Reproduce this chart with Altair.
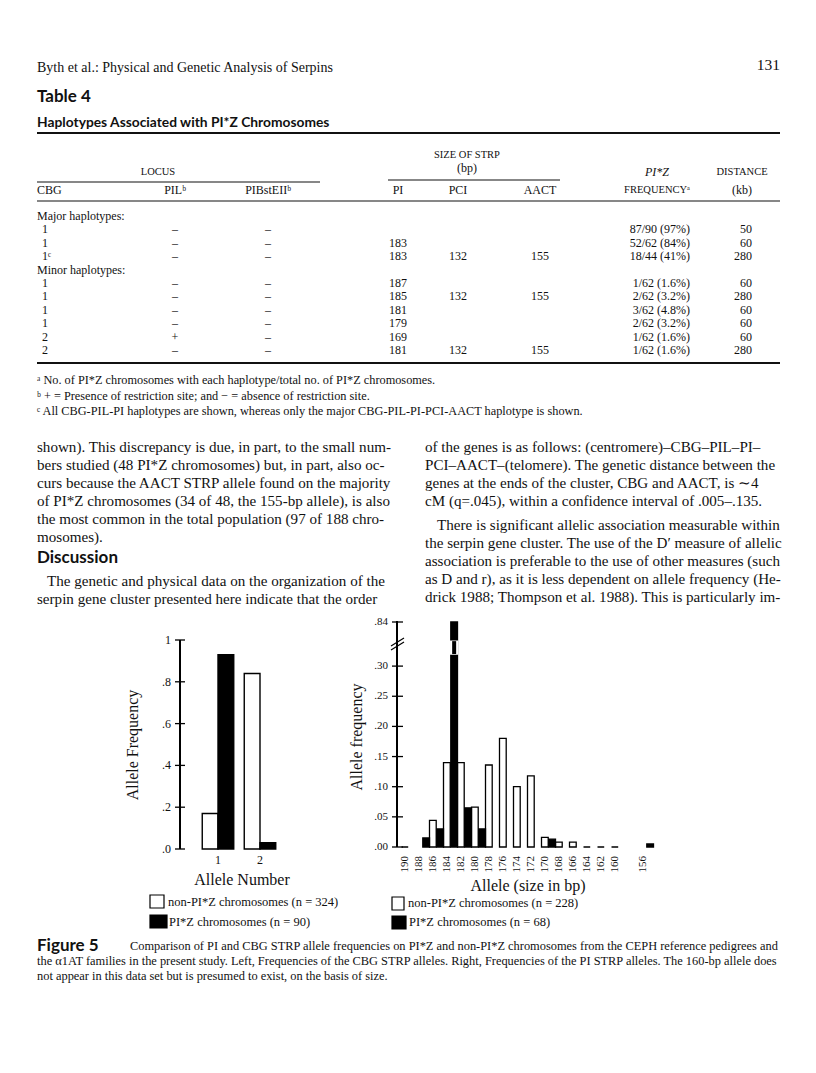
import altair as alt
import pandas as pd

# ------------------------------------------------------------------
# Figure data
# ------------------------------------------------------------------
cbg_alleles = ["1", "2"]
cbg_non_piz = [0.17, 0.84]
cbg_piz = [0.93, 0.03]

pi_slots = ["190", "188", "186", "184", "182", "180", "178", "176", "174",
            "172", "170", "168", "166", "164", "162", "160", "158", "156"]
pi_slot_labels = ["190", "188", "186", "184", "182", "180", "178", "176", "174",
                  "172", "170", "168", "166", "164", "162", "160", "", "156"]
pi_non_alleles = ["190", "186", "184", "182", "180", "178", "176", "174", "172",
                  "170", "168", "166", "164", "162", "160"]
pi_non_freq = [0.0, 0.044, 0.14, 0.14, 0.066, 0.136, 0.18, 0.10, 0.118,
               0.016, 0.008, 0.008, 0.0, 0.0, 0.0]
pi_z_alleles = ["188", "186", "184", "182", "180", "170", "156"]
pi_z_freq = [0.015, 0.03, 0.84, 0.065, 0.03, 0.013, 0.005]

left_ticks = [0.0, 0.2, 0.4, 0.6, 0.8, 1.0]
left_tick_labels = [".0", ".2", ".4", ".6", ".8", "1"]
right_ticks = [0.0, 0.05, 0.10, 0.15, 0.20, 0.25, 0.30, 0.84]
right_tick_labels = [".00", ".05", ".10", ".15", ".20", ".25", ".30", ".84"]

# ------------------------------------------------------------------
# Page text
# ------------------------------------------------------------------
header_text = "Byth et al.: Physical and Genetic Analysis of Serpins"
page_number = "131"
table_title = "Table 4"
table_caption = "Haplotypes Associated with PI*Z Chromosomes"
table_rows = [
    ["1", "–", "–", "", "", "", "87/90 (97%)", "50"],
    ["1", "–", "–", "183", "", "", "52/62 (84%)", "60"],
    ["1ᶜ", "–", "–", "183", "132", "155", "18/44 (41%)", "280"],
    ["1", "–", "–", "187", "", "", "1/62 (1.6%)", "60"],
    ["1", "–", "–", "185", "132", "155", "2/62 (3.2%)", "280"],
    ["1", "–", "–", "181", "", "", "3/62 (4.8%)", "60"],
    ["1", "–", "–", "179", "", "", "2/62 (3.2%)", "60"],
    ["2", "+", "–", "169", "", "", "1/62 (1.6%)", "60"],
    ["2", "–", "–", "181", "132", "155", "1/62 (1.6%)", "280"],
]
footnotes = [
    "ᵃ No. of PI*Z chromosomes with each haplotype/total no. of PI*Z chromosomes.",
    "ᵇ + = Presence of restriction site; and − = absence of restriction site.",
    "ᶜ All CBG-PIL-PI haplotypes are shown, whereas only the major CBG-PIL-PI-PCI-AACT haplotype is shown.",
]
body_left = [
    "shown). This discrepancy is due, in part, to the small num-",
    "bers studied (48 PI*Z chromosomes) but, in part, also oc-",
    "curs because the AACT STRP allele found on the majority",
    "of PI*Z chromosomes (34 of 48, the 155-bp allele), is also",
    "the most common in the total population (97 of 188 chro-",
    "mosomes).",
]
body_left2 = [
    "The genetic and physical data on the organization of the",
    "serpin gene cluster presented here indicate that the order",
]
body_right = [
    "of the genes is as follows: (centromere)–CBG–PIL–PI–",
    "PCI–AACT–(telomere). The genetic distance between the",
    "genes at the ends of the cluster, CBG and AACT, is ∼4",
    "cM (q=.045), within a confidence interval of .005–.135.",
]
body_right2 = [
    "There is significant allelic association measurable within",
    "the serpin gene cluster. The use of the D′ measure of allelic",
    "association is preferable to the use of other measures (such",
    "as D and r), as it is less dependent on allele frequency (He-",
    "drick 1988; Thompson et al. 1988). This is particularly im-",
]
caption_lines = [
    "Comparison of PI and CBG STRP allele frequencies on PI*Z and non-PI*Z chromosomes from the CEPH reference pedigrees and",
    "the α1AT families in the present study. Left, Frequencies of the CBG STRP alleles. Right, Frequencies of the PI STRP alleles. The 160-bp allele does",
    "not appear in this data set but is presumed to exist, on the basis of size.",
]

# ------------------------------------------------------------------
# Layout (page pixel coordinates)
# ------------------------------------------------------------------
W, H, M = 800, 1057, 8
SERIF = "Liberation Serif"
SANS = "Lato"

PX = alt.Scale(domain=[M, M + W], range=[0, W], nice=False, zero=False)
PY = alt.Scale(domain=[M, M + H], range=[0, H], nice=False, zero=False)

texts = []  # (text, x, y, style)


def add(t, x, y, style):
    texts.append((t, x, y, style))


add(header_text, 37, 68, "head")
add(page_number, 780, 65, "pagenum")
add(table_title, 37, 97, "h1")
add(table_caption, 37, 123, "h2")

# table header
add("SIZE OF STRP", 467, 155, "sc")
add("(bp)", 467, 168, "tabc")
add("LOCUS", 158, 172, "sc")
add("PI*Z", 657, 172, "tabci")
add("DISTANCE", 742, 172, "sc")
add("CBG", 37, 190, "tab")
add("PILᵇ", 175, 190, "tabc")
add("PIBstEIIᵇ", 268, 190, "tabc")
add("PI", 398, 190, "tabc")
add("PCI", 458, 190, "tabc")
add("AACT", 540, 190, "tabc")
add("FREQUENCYᵃ", 657, 190, "sc")
add("(kb)", 742, 190, "tabc")

add("Major haplotypes:", 37, 216, "tab")
add("Minor haplotypes:", 37, 269.6, "tab")
row_y = [229.4, 242.8, 256.2, 283.0, 296.4, 309.8, 323.2, 336.6, 350.0]
col_x = [42, 175, 268, 398, 458, 540, 690, 752]
col_style = ["tab", "tabc", "tabc", "tabc", "tabc", "tabc", "tabr", "tabr"]
for r, yy in zip(table_rows, row_y):
    for v, xx, st in zip(r, col_x, col_style):
        if v:
            add(v, xx, yy, st)

for i, f in enumerate(footnotes):
    add(f, 37, 380 + 15.5 * i, "foot")

for i, l in enumerate(body_left):
    add(l, 37, 447 + 18 * i, "body")
add("Discussion", 37, 558, "bodyb")
add(body_left2[0], 47, 581, "body")
add(body_left2[1], 37, 599, "body")
for i, l in enumerate(body_right):
    add(l, 425, 447 + 18 * i, "body")
add(body_right2[0], 437, 525, "body")
for i, l in enumerate(body_right2[1:]):
    add(l, 425, 543 + 18 * i, "body")

add("Figure 5", 37, 946, "capb")
add(caption_lines[0], 130, 946, "cap")
add(caption_lines[1], 37, 961, "cap")
add(caption_lines[2], 37, 976, "cap")

# figure titles & legends
add("Allele Number", 242, 880, "figc")
add("Allele (size in bp)", 528, 886, "figc")
add("non-PI*Z chromosomes (n = 324)", 168, 902, "leg")
add("PI*Z chromosomes (n = 90)", 169, 922, "leg")
add("non-PI*Z chromosomes (n = 228)", 408, 903, "leg")
add("PI*Z chromosomes (n = 68)", 409, 922, "leg")

styles = {
    "head": dict(font=SERIF, fontSize=14, align="left"),
    "pagenum": dict(font=SERIF, fontSize=15.5, align="right"),
    "h1": dict(font=SANS, fontSize=17, fontWeight="bold", align="left"),
    "h2": dict(font=SANS, fontSize=13.8, fontWeight="bold", align="left"),
    "sc": dict(font=SERIF, fontSize=10.5, align="center"),
    "tab": dict(font=SERIF, fontSize=12, align="left"),
    "tabc": dict(font=SERIF, fontSize=12, align="center"),
    "tabci": dict(font=SERIF, fontSize=12, align="center", fontStyle="italic"),
    "tabr": dict(font=SERIF, fontSize=12, align="right"),
    "foot": dict(font=SERIF, fontSize=12.3, align="left"),
    "body": dict(font=SERIF, fontSize=15.1, align="left"),
    "bodyb": dict(font=SANS, fontSize=17, fontWeight="bold", align="left"),
    "cap": dict(font=SERIF, fontSize=12.4, align="left"),
    "capb": dict(font=SANS, fontSize=17, fontWeight="bold", align="left"),
    "figc": dict(font=SERIF, fontSize=16, align="center"),
    "leg": dict(font=SERIF, fontSize=12.5, align="left"),
}

tdf = pd.DataFrame(texts, columns=["t", "x", "y", "style"])
page_layers = []
for key, st in styles.items():
    sub = tdf[tdf["style"] == key]
    if len(sub) == 0:
        continue
    page_layers.append(
        alt.Chart(sub).mark_text(baseline="middle", color="#111", **st).encode(
            x=alt.X("x:Q", scale=PX, axis=None),
            y=alt.Y("y:Q", scale=PY, axis=None),
            text="t:N",
        )
    )

# rotated axis titles
rot = pd.DataFrame({"t": ["Allele Frequency", "Allele frequency"], "x": [133, 357], "y": [745, 737]})
page_layers.append(
    alt.Chart(rot).mark_text(baseline="middle", align="center", angle=270, font=SERIF,
                             fontSize=16, color="#111").encode(
        x=alt.X("x:Q", scale=PX, axis=None), y=alt.Y("y:Q", scale=PY, axis=None), text="t:N")
)

# table rules
rules = pd.DataFrame({
    "x1": [37, 37, 388, 37, 37],
    "x2": [780, 320, 560, 780, 780],
    "y": [133, 182, 180, 201, 363],
    "w": [1.8, 1.2, 1.2, 1.2, 1.8],
})
page_layers.append(
    alt.Chart(rules).mark_rule(color="#111").encode(
        x=alt.X("x1:Q", scale=PX, axis=None), x2="x2:Q",
        y=alt.Y("y:Q", scale=PY, axis=None),
        size=alt.Size("w:Q", scale=None, legend=None))
)

# legend swatches
sw = pd.DataFrame({
    "x1": [150, 150, 392, 392], "x2": [164, 167, 404, 406],
    "y1": [895, 915, 897, 916], "y2": [908, 928, 910, 929],
    "f": ["white", "black", "white", "black"],
})
page_layers.append(
    alt.Chart(sw).mark_rect(stroke="black", strokeWidth=1.2).encode(
        x=alt.X("x1:Q", scale=PX, axis=None), x2="x2:Q",
        y=alt.Y("y1:Q", scale=PY, axis=None), y2="y2:Q",
        fill=alt.Fill("f:N", scale=None, legend=None))
)

# axis break marks (right panel)
brk = pd.DataFrame({"x1": [391, 391], "x2": [404, 404], "y1": [650, 646], "y2": [642, 638]})
page_layers.append(
    alt.Chart(brk).mark_rule(color="black", strokeWidth=1.3).encode(
        x=alt.X("x1:Q", scale=PX, axis=None), x2="x2:Q",
        y=alt.Y("y1:Q", scale=PY, axis=None), y2="y2:Q")
)

page = alt.layer(*page_layers)

# ------------------------------------------------------------------
# Left panel: CBG STRP
# ------------------------------------------------------------------
groups = ["non", "piz"]
fill_scale = alt.Scale(domain=groups, range=["white", "black"])
XL = alt.Scale(domain=cbg_alleles, range=[197 - M, 281 - M], paddingInner=0.25, paddingOuter=0.125)
YL = alt.Scale(domain=[0, 1], range=[849 - M, 640 - M], nice=False, zero=False)

ldf = pd.DataFrame({
    "allele": cbg_alleles + cbg_alleles,
    "group": ["non"] * len(cbg_alleles) + ["piz"] * len(cbg_alleles),
    "freq": cbg_non_piz + cbg_piz,
})
ltick = pd.DataFrame({"v": left_ticks, "lab": left_tick_labels})
lcat = pd.DataFrame({"allele": cbg_alleles})

l_bars = alt.Chart(ldf).mark_bar(stroke="black", strokeWidth=1.4).encode(
    x=alt.X("allele:N", scale=XL, axis=None),
    xOffset=alt.XOffset("group:N", scale=alt.Scale(domain=groups)),
    y=alt.Y("freq:Q", scale=YL, axis=None),
    fill=alt.Fill("group:N", scale=fill_scale, legend=None),
)
l_axis = alt.Chart(ltick).mark_rule(color="black", strokeWidth=1.5).encode(
    x=alt.value(180 - M), y=alt.value(640 - M), y2=alt.value(849 - M))
l_ticks = alt.Chart(ltick).mark_rule(color="black", strokeWidth=1.3).encode(
    y=alt.Y("v:Q", scale=YL, axis=None), x=alt.value(175 - M), x2=alt.value(185 - M))
l_tlab = alt.Chart(ltick).mark_text(align="right", baseline="middle", font=SERIF, fontSize=12,
                                    color="#111").encode(
    y=alt.Y("v:Q", scale=YL, axis=None), x=alt.value(171 - M), text="lab:N")
l_xlab = alt.Chart(lcat).mark_text(align="center", baseline="middle", font=SERIF, fontSize=12,
                                   color="#111").encode(
    x=alt.X("allele:N", scale=XL, axis=None), y=alt.value(860 - M), text="allele:N")
left = alt.layer(l_bars, l_axis, l_ticks, l_tlab, l_xlab)

# ------------------------------------------------------------------
# Right panel: PI STRP (broken axis)
# ------------------------------------------------------------------
XR = alt.Scale(domain=pi_slots, range=[401.5 - M, 653.5 - M], paddingInner=0.0, paddingOuter=0.0)
YR = alt.Scale(domain=[0, 0.335, 0.84], range=[847 - M, 645 - M, 622 - M], nice=False, zero=False)
XO = alt.Scale(domain=groups, paddingInner=0.08)

rdf = pd.DataFrame({
    "allele": pi_non_alleles + pi_z_alleles,
    "group": ["non"] * len(pi_non_alleles) + ["piz"] * len(pi_z_alleles),
    "freq": pi_non_freq + pi_z_freq,
})
rtick = pd.DataFrame({"v": right_ticks, "lab": right_tick_labels})
rcat = pd.DataFrame({"allele": pi_slots, "lab": pi_slot_labels, "group": ["non"] * len(pi_slots)})
# narrowed neck where the tallest bar crosses the axis break
neck = pd.DataFrame({"allele": ["184"], "group": ["piz"], "lo": [0.32], "hi": [0.42]})

r_bars = alt.Chart(rdf).mark_bar(stroke="black", strokeWidth=1.3).encode(
    x=alt.X("allele:N", scale=XR, axis=None),
    xOffset=alt.XOffset("group:N", scale=XO),
    y=alt.Y("freq:Q", scale=YR, axis=None),
    fill=alt.Fill("group:N", scale=fill_scale, legend=None),
)
r_neck_bg = alt.Chart(neck).mark_bar(fill="white", stroke="white", strokeWidth=1.5).encode(
    x=alt.X("allele:N", scale=XR, axis=None),
    xOffset=alt.XOffset("group:N", scale=XO),
    y=alt.Y("lo:Q", scale=YR, axis=None), y2="hi:Q",
)
r_neck = alt.Chart(neck).mark_bar(fill="black", width=4).encode(
    x=alt.X("allele:N", scale=XR, axis=None),
    xOffset=alt.XOffset("group:N", scale=XO),
    y=alt.Y("lo:Q", scale=YR, axis=None), y2="hi:Q",
)
r_axis = alt.Chart(rtick).mark_rule(color="black", strokeWidth=1.5).encode(
    x=alt.value(397 - M), y=alt.value(621 - M), y2=alt.value(847 - M))
r_ticks = alt.Chart(rtick).mark_rule(color="black", strokeWidth=1.3).encode(
    y=alt.Y("v:Q", scale=YR, axis=None), x=alt.value(392 - M), x2=alt.value(403 - M))
r_tlab = alt.Chart(rtick).mark_text(align="right", baseline="middle", font=SERIF, fontSize=11,
                                    color="#111").encode(
    y=alt.Y("v:Q", scale=YR, axis=None), x=alt.value(388 - M), text="lab:N")
r_xlab = alt.Chart(rcat).mark_text(align="right", baseline="middle", angle=270, font=SERIF,
                                   fontSize=11, color="#111").encode(
    x=alt.X("allele:N", scale=XR, axis=None),
    xOffset=alt.XOffset("group:N", scale=XO),
    y=alt.value(856 - M), text="lab:N")
right = alt.layer(r_bars, r_neck_bg, r_neck, r_axis, r_ticks, r_tlab, r_xlab)

chart = alt.layer(page, left, right).resolve_scale(
    x="independent", y="independent", xOffset="independent"
).properties(
    width=W, height=H, padding=0, autosize="none", background="white"
).configure_view(stroke=None)

chart.save("out.html", embed_options={"renderer": "svg", "actions": False})
